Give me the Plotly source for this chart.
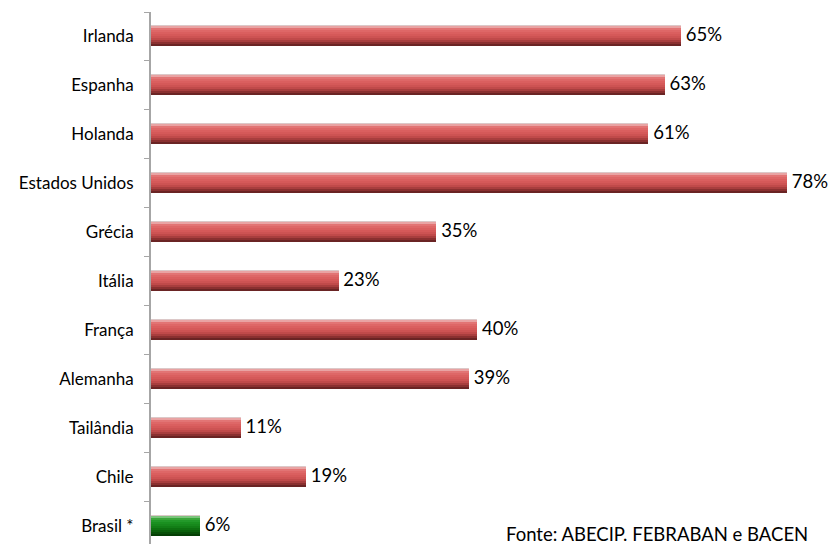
import plotly.graph_objects as go

categories = ["Irlanda", "Espanha", "Holanda", "Estados Unidos", "Grécia", "Itália",
              "França", "Alemanha", "Tailândia", "Chile", "Brasil *"]
values = [65, 63, 61, 78, 35, 23, 40, 39, 11, 19, 6]
labels = ["65%", "63%", "61%", "78%", "35%", "23%", "40%", "39%", "11%", "19%", "6%"]
highlight = ["Brasil *"]
source_note = "Fonte: ABECIP. FEBRABAN e BACEN"

# stripe shading, top to bottom
red_stripes = ["#e9a3a3", "#e27474", "#de6767", "#da5f5f", "#d55959",
               "#cd5353", "#c04a4a", "#a83e3e", "#8a3030", "#6a2424"]
green_stripes = ["#7cc47c", "#3aa63a", "#23992a", "#1a9020", "#17881c",
                 "#127e16", "#0e7010", "#0a600c", "#074f08", "#043f05"]

bar_h = 0.408
n = len(red_stripes)
sw = bar_h / n

fig = go.Figure()
fig.add_trace(go.Bar(
    x=values, y=categories, orientation="h", width=bar_h,
    marker=dict(color=[green_stripes[5] if c in highlight else red_stripes[5] for c in categories],
                line=dict(color="#dcc8c8", width=1)),
    hoverinfo="skip", showlegend=False))
for i in range(n):
    cols = [green_stripes[i] if c in highlight else red_stripes[i] for c in categories]
    off = bar_h / 2 - (i + 1) * sw
    fig.add_trace(go.Bar(
        x=values, y=categories, orientation="h", width=sw * 1.15, offset=off,
        marker=dict(color=cols, line=dict(width=0)),
        hoverinfo="skip", showlegend=False))

fig.add_trace(go.Scatter(
    x=values, y=categories, mode="text", text=[" " + t for t in labels],
    textposition="middle right", textfont=dict(size=18.5, color="#000000", family="Lato"),
    cliponaxis=False, hoverinfo="skip", showlegend=False))

fig.add_annotation(text=source_note, xref="paper", yref="paper",
                   x=0.738, y=0.018, xanchor="center", yanchor="middle",
                   showarrow=False, font=dict(size=18.5, color="#000000", family="Lato"))

# page body has an 8px default margin, so the figure is laid out 8px smaller
fig.update_layout(
    width=828, height=536,
    margin=dict(l=143, r=0, t=3.5, b=0),
    barmode="overlay", bargap=0,
    plot_bgcolor="white", paper_bgcolor="white",
    font=dict(family="Lato", color="#000000"),
    xaxis=dict(range=[0, 84], visible=False, showgrid=False, zeroline=False),
    yaxis=dict(type="category", categoryorder="array", categoryarray=categories[::-1],
               range=[-0.37, 10.5], tickson="boundaries", ticks="outside", ticklen=5,
               tickcolor="#a6a6a6", tickwidth=1, showline=True, linecolor="#a6a6a6",
               linewidth=2, showgrid=False, zeroline=False,
               tickfont=dict(size=17, color="#000000", family="Lato"), ticklabelstandoff=12),
)

fig.write_html("out.html")
